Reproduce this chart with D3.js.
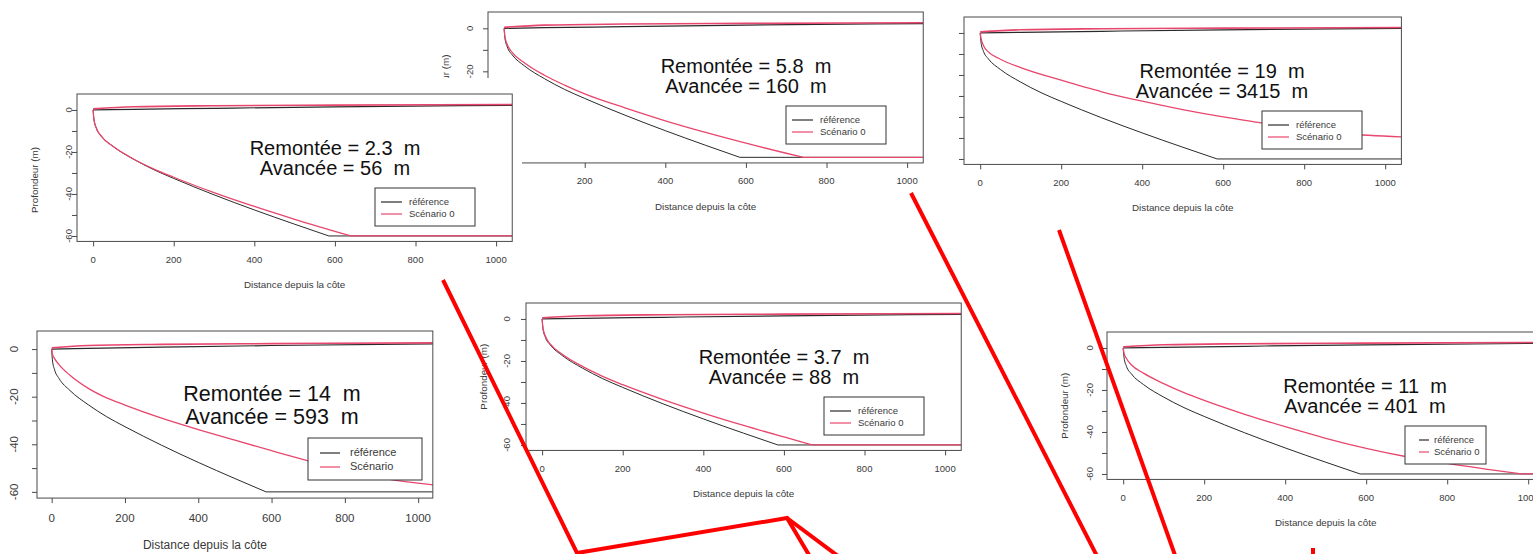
<!DOCTYPE html>
<html>
<head>
<meta charset="utf-8">
<script src="https://cdn.jsdelivr.net/npm/d3@7"></script>
<style>
  body { margin: 0; background: #fff; }
  svg { display: block; font-family: "Liberation Sans", Arial, sans-serif; }
</style>
</head>
<body>
<div id="chart"></div>
<script>
// ---- data ----
const xTicks = [0, 200, 400, 600, 800, 1000];
const yTicks = [0, -10, -20, -30, -40, -50, -60];
const yTickLabels = [0, -20, -40, -60];
const xDomain = [-40, 1040];
const yDomain = [-62.6, 7.6];

const xTitle = 'Distance depuis la côte';
const yTitle = 'Profondeur (m)';

// reference profile (same in every panel)
const refDist  = [0, 2, 8, 20, 50, 100, 150, 200, 300, 400, 500, 585, 1040];
const refDepth = [0, -4.5, -8.7, -12.3, -17.4, -23.4, -28.4, -32.6, -40.4, -47.6, -54.4, -60, -60];

// beach / surface line
const surfDist = [0, 100, 300, 600, 1040];
const surfRef  = [0, 0.3, 0.8, 1.5, 2.2];
const surfScen = [0.5, 1.5, 2, 2.3, 2.6];

// scenario profiles, one per panel
const scenADist  = [0, 2, 8, 20, 50, 100, 150, 200, 300, 400, 500, 640, 1040];
const scenADepth = [0, -4.4, -8.6, -12.5, -17.45, -23.35, -28.05, -32.05, -39.35, -45.95, -52.05, -60, -60];
const scenBDist  = [0, 2, 8, 20, 50, 100, 150, 200, 300, 400, 500, 600, 700, 743, 1040];
const scenBDepth = [0, -3.8, -7.6, -11.2, -16, -21.8, -26.4, -30.5, -37, -43, -48.4, -53.4, -58.1, -60, -60];
const scenCDist  = [0, 2, 8, 20, 50, 100, 200, 300, 400, 500, 600, 700, 800, 900, 1040];
const scenCDepth = [0, -2.5, -6, -9, -12.5, -16.5, -22.5, -28, -32.5, -36.5, -40, -43, -46, -48, -49.5];
const scenDDist  = [0, 2, 8, 20, 50, 100, 150, 200, 300, 400, 500, 600, 700, 800, 900, 1000, 1040];
const scenDDepth = [0, -2, -4, -6.5, -11, -16.5, -20.5, -23.5, -29, -33.8, -38.3, -42.7, -47, -51, -54.2, -56.3, -57];
const scenEDist  = [0, 2, 8, 20, 50, 100, 150, 200, 300, 400, 500, 600, 671, 1040];
const scenEDepth = [0, -4.1, -8.1, -11.9, -16.8, -22.6, -27.3, -31.3, -38.4, -44.8, -50.7, -56.2, -60, -60];
const scenFDist  = [0, 2, 8, 20, 50, 100, 150, 200, 300, 400, 500, 600, 700, 800, 900, 984, 1040];
const scenFDepth = [0, -2.5, -5, -8, -12, -17, -21.3, -25, -31.6, -37.5, -43, -47.8, -51.8, -55, -57.8, -60, -60];

const remontee = {A: '2.3', B: '5.8', C: '19', D: '14', E: '3.7', F: '11'};
const avancee  = {A: '56', B: '160', C: '3415', D: '593', E: '88', F: '401'};
const legendRef = 'référence';
const legendScen = {A: 'Scénario 0', B: 'Scénario 0', C: 'Scénario 0', D: 'Scénario', E: 'Scénario 0', F: 'Scénario 0'};

// ---- layout of the pasted plots ----
const base = {
  tickFont: 9.5, titleFont: 9.8, textFont: 20,
  textCx: 258, textY1: 61, textY2: 81,
  legX: 298, legY: 94, legW: 100, legH: 38, legFont: 9.5,
  legLine: [6, 27], legText: 34, legRows: [14, 26],
  tickLen: 5, xLabDy: 19, xTitleDy: 44, yLabDx: -18, yTitleDx: -42,
  showYLabels: true, showYTitle: true, bg: null, titleCx: null, yTitleCy: null
};
const panels = [
  {key: 'B', x0: 488, y0: 12, sx: 0.403, sy: 2.15},
  {key: 'C', x0: 964, y0: 17, sx: 0.405, sy: 2.1, showYLabels: false, showYTitle: false},
  {key: 'A', x0: 77, y0: 94, sx: 0.403, sy: 2.1, yLabDx: -8, yTitleCy: 180, bg: [0, 78, 522, 214]},
  {key: 'D', x0: 37, y0: 331, sx: 0.3665, sy: 2.38, tickFont: 11.5, titleFont: 12, textFont: 21.5,
   textCx: 235, textY1: 70, textY2: 93, legX: 271, legY: 107, legW: 114, legH: 42, legFont: 11,
   legLine: [12, 32], legText: 42, legRows: [15, 29], xLabDy: 21, xTitleDy: 48, yLabDx: -22,
   titleCx: 205, showYTitle: false},
  {key: 'E', x0: 526, y0: 303, sx: 0.403, sy: 2.1, yLabDx: -19},
  {key: 'F', x0: 1107, y0: 332, sx: 0.405, sy: 2.1, yLabDx: -17, legW: 81, legLine: [14, 24], legText: 29}
];
const scenarios = {
  A: [scenADist, scenADepth], B: [scenBDist, scenBDepth], C: [scenCDist, scenCDepth],
  D: [scenDDist, scenDDepth], E: [scenEDist, scenEDepth], F: [scenFDist, scenFDepth]
};

const colors = {ref: '#2a2a2a', scen: '#e8476d', axis: '#4a4a4a', text: '#3a3a3a', arrow: '#ff0000'};

const svg = d3.select('#chart').append('svg')
  .attr('width', 1533)
  .attr('height', 554);

function zipPts(xs, ys) {
  return xs.map((d, i) => [d, ys[i]]);
}

function drawPanel(cfg) {
  const p = Object.assign({}, base, cfg);
  const w = (xDomain[1] - xDomain[0]) * p.sx;
  const h = (yDomain[1] - yDomain[0]) * p.sy;
  const g = svg.append('g').attr('class', 'panel-' + p.key);

  // white background of the pasted image (covers what is underneath)
  if (p.bg) {
    g.append('rect')
      .attr('x', p.bg[0]).attr('y', p.bg[1])
      .attr('width', p.bg[2]).attr('height', p.bg[3])
      .attr('fill', '#fff');
  }

  const x = d3.scaleLinear().domain(xDomain).range([p.x0, p.x0 + w]);
  const y = d3.scaleLinear().domain(yDomain).range([p.y0 + h, p.y0]);
  const smooth = d3.line().x(d => x(d[0])).y(d => y(d[1])).curve(d3.curveMonotoneX);
  const straight = d3.line().x(d => x(d[0])).y(d => y(d[1]));

  // curved part up to the bottom, then the flat floor as a straight run
  function profilePath(pts) {
    const minD = d3.min(pts, d => d[1]);
    const k = pts.findIndex(d => d[1] === minD);
    let s = smooth(pts.slice(0, k + 1));
    if (k < pts.length - 1) s += straight(pts.slice(k)).replace(/^M/, 'L');
    return s;
  }

  g.append('clipPath').attr('id', 'clip-' + p.key)
    .append('rect').attr('x', p.x0).attr('y', p.y0).attr('width', w).attr('height', h);
  const plot = g.append('g').attr('clip-path', `url(#clip-${p.key})`);

  const series = [
    {pts: zipPts(surfDist, surfRef), color: colors.ref, width: 1.2, gen: smooth},
    {pts: zipPts(surfDist, surfScen), color: colors.scen, width: 1.6, gen: smooth},
    {pts: zipPts(refDist, refDepth), color: colors.ref, width: 1, gen: profilePath},
    {pts: zipPts(scenarios[p.key][0], scenarios[p.key][1]), color: colors.scen, width: 1.3, gen: profilePath}
  ];
  plot.selectAll('path.serie')
    .data(series)
    .enter()
    .append('path')
    .attr('class', 'serie')
    .attr('d', d => d.gen(d.pts))
    .attr('fill', 'none')
    .attr('stroke', d => d.color)
    .attr('stroke-width', d => d.width)
    .attr('stroke-linejoin', 'round');

  // annotation text (R pastes a double space before the unit)
  const txt = g.append('g')
    .attr('font-size', p.textFont)
    .attr('fill', '#111')
    .attr('text-anchor', 'middle');
  txt.append('text')
    .attr('x', p.x0 + p.textCx).attr('y', p.y0 + p.textY1)
    .text(`Remontée = ${remontee[p.key]} \u00a0m`);
  txt.append('text')
    .attr('x', p.x0 + p.textCx).attr('y', p.y0 + p.textY2)
    .text(`Avancée = ${avancee[p.key]} \u00a0m`);

  // legend
  const lg = g.append('g').attr('transform', `translate(${p.x0 + p.legX},${p.y0 + p.legY})`);
  lg.append('rect')
    .attr('width', p.legW).attr('height', p.legH)
    .attr('fill', '#fff').attr('stroke', '#333').attr('stroke-width', 1);
  const entries = [
    {label: legendRef, color: colors.ref},
    {label: legendScen[p.key], color: colors.scen}
  ];
  entries.forEach((e, i) => {
    lg.append('line')
      .attr('x1', p.legLine[0]).attr('x2', p.legLine[1])
      .attr('y1', p.legRows[i]).attr('y2', p.legRows[i])
      .attr('stroke', e.color).attr('stroke-width', 1.2);
    lg.append('text')
      .attr('x', p.legText).attr('y', p.legRows[i])
      .attr('dominant-baseline', 'middle')
      .attr('font-size', p.legFont)
      .attr('fill', colors.text)
      .text(e.label);
  });

  // box
  g.append('rect')
    .attr('x', p.x0).attr('y', p.y0).attr('width', w).attr('height', h)
    .attr('fill', 'none').attr('stroke', colors.axis).attr('stroke-width', 1);

  // x axis
  const xAxis = g.append('g')
    .attr('transform', `translate(0,${p.y0 + h})`)
    .call(d3.axisBottom(x).tickValues(xTicks).tickSize(p.tickLen).tickPadding(0).tickFormat(''));
  xAxis.select('.domain').remove();
  xAxis.selectAll('line').attr('stroke', colors.axis);
  g.selectAll('text.xlab')
    .data(xTicks)
    .enter()
    .append('text')
    .attr('class', 'xlab')
    .attr('x', d => x(d))
    .attr('y', p.y0 + h + p.xLabDy)
    .attr('text-anchor', 'middle')
    .attr('dominant-baseline', 'middle')
    .attr('font-size', p.tickFont)
    .attr('fill', colors.text)
    .text(d => String(d));
  g.append('text')
    .attr('x', p.titleCx !== null ? p.titleCx : p.x0 + w / 2)
    .attr('y', p.y0 + h + p.xTitleDy)
    .attr('text-anchor', 'middle')
    .attr('dominant-baseline', 'middle')
    .attr('font-size', p.titleFont)
    .attr('fill', colors.text)
    .text(xTitle);

  // y axis
  const yAxis = g.append('g')
    .attr('transform', `translate(${p.x0},0)`)
    .call(d3.axisLeft(y).tickValues(yTicks).tickSize(p.tickLen).tickFormat(''));
  yAxis.select('.domain').remove();
  yAxis.selectAll('line').attr('stroke', colors.axis);

  if (p.showYLabels) {
    const lx = p.x0 + p.yLabDx;
    g.selectAll('text.ylab')
      .data(yTickLabels)
      .enter()
      .append('text')
      .attr('class', 'ylab')
      .attr('transform', d => `translate(${lx},${y(d)}) rotate(-90)`)
      .attr('text-anchor', 'middle')
      .attr('dominant-baseline', 'middle')
      .attr('font-size', p.tickFont)
      .attr('fill', colors.text)
      .text(d => String(d));
  }
  if (p.showYTitle) {
    const ty = p.yTitleCy !== null ? p.yTitleCy : p.y0 + h / 2;
    g.append('text')
      .attr('transform', `translate(${p.x0 + p.yTitleDx},${ty}) rotate(-90)`)
      .attr('text-anchor', 'middle')
      .attr('dominant-baseline', 'middle')
      .attr('font-size', p.titleFont)
      .attr('fill', colors.text)
      .text(yTitle);
  }
}

panels.forEach(drawPanel);

// red connector lines drawn over the pasted plots
const connectors = [
  [[443, 280], [577, 553], [787, 518], [812, 560]],
  [[787, 518], [846, 562]],
  [[911, 193], [1098, 558]],
  [[1059, 230], [1176, 558]],
  [[1313, 548], [1313, 558]]
];
svg.selectAll('path.connector')
  .data(connectors)
  .enter()
  .append('path')
  .attr('class', 'connector')
  .attr('d', d => d3.line()(d))
  .attr('fill', 'none')
  .attr('stroke', colors.arrow)
  .attr('stroke-width', 4)
  .attr('stroke-linejoin', 'miter');
</script>
</body>
</html>
